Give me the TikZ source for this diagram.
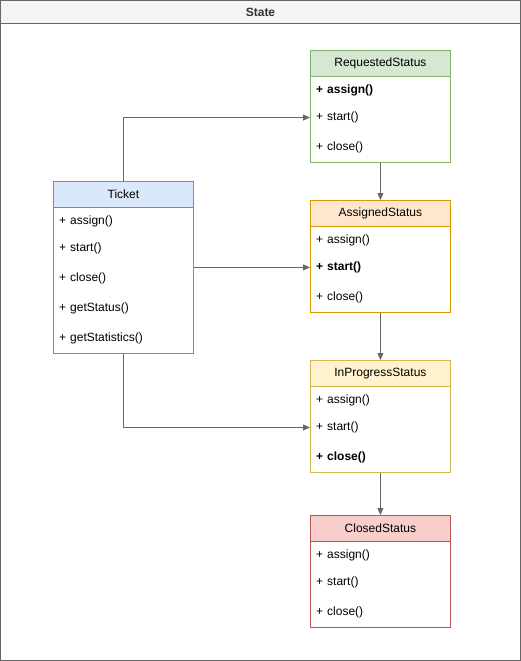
\documentclass[tikz,border=0pt]{standalone}
\usepackage{fontspec}
\setmainfont{Liberation Sans}
\usetikzlibrary{arrows.meta}

\definecolor{frameS}{HTML}{666666}
\definecolor{frameF}{HTML}{F5F5F5}
\definecolor{titleT}{HTML}{333333}
\definecolor{blueF}{HTML}{DAE8FC}
\definecolor{blueS}{HTML}{6C8EBF}
\definecolor{greenF}{HTML}{D5E8D4}
\definecolor{greenS}{HTML}{82B366}
\definecolor{orangeF}{HTML}{FFE6CC}
\definecolor{orangeS}{HTML}{D79B00}
\definecolor{yellowF}{HTML}{FFF2CC}
\definecolor{yellowS}{HTML}{D6B656}
\definecolor{redF}{HTML}{F8CECC}
\definecolor{redS}{HTML}{B85450}

\tikzset{
  basefont/.style={font=\fontsize{12}{14}\selectfont},
  classbox/.style={draw=#1, line width=0.8pt, minimum width=140pt, inner sep=0pt, anchor=north west},
  classhead/.style={draw=#1, line width=0.8pt, minimum width=140pt, minimum height=26pt, inner sep=0pt, anchor=north west, basefont},
  member/.style={anchor=west, text width=128pt, inner xsep=6pt, inner ysep=0pt, align=left, basefont},
  link/.style={draw=frameS, line width=0.8pt, -{Triangle[length=7pt,width=6pt]}},
}

\begin{document}
\begin{tikzpicture}[x=1pt,y=-1pt]
\useasboundingbox (0,0) rectangle (521,661);

% container with title bar
\fill[frameF] (0.5,0.5) rectangle (520.5,23.5);
\draw[frameS, line width=0.8pt] (0.5,0.5) rectangle (520.5,660.5);
\draw[frameS, line width=0.8pt] (0.5,23.5) -- (520.5,23.5);
\node[basefont, text=titleT, font=\fontsize{12}{14}\selectfont\bfseries] (title) at (260.5,12.5) {State};

% Ticket
\node[classhead=blueS, fill=blueF] (tkh) at (53,181) {Ticket};
\node[classbox=blueS, minimum height=172pt] (tk) at (53,181) {};
\node[member] (tka) at (53,221.5) {+ assign()};
\node[member] (tks) at (53,248.5) {+ start()};
\node[member] (tkc) at (53,278.5) {+ close()};
\node[member] (tkg) at (53,308.5) {+ getStatus()};
\node[member] (tkt) at (53,338.5) {+ getStatistics()};

% RequestedStatus
\node[classhead=greenS, fill=greenF] (rqh) at (310,50) {RequestedStatus};
\node[classbox=greenS, minimum height=112pt] (rq) at (310,50) {};
\node[member] (rqa) at (310,90.5) {\textbf{+ assign()}};
\node[member] (rqs) at (310,117.5) {+ start()};
\node[member] (rqc) at (310,147.5) {+ close()};

% AssignedStatus
\node[classhead=orangeS, fill=orangeF] (ash) at (310,200) {AssignedStatus};
\node[classbox=orangeS, minimum height=112pt] (as) at (310,200) {};
\node[member] (asa) at (310,240.5) {+ assign()};
\node[member] (ass) at (310,267.5) {\textbf{+ start()}};
\node[member] (asc) at (310,297.5) {+ close()};

% InProgressStatus
\node[classhead=yellowS, fill=yellowF] (iph) at (310,360) {InProgressStatus};
\node[classbox=yellowS, minimum height=112pt] (ip) at (310,360) {};
\node[member] (ipa) at (310,400.5) {+ assign()};
\node[member] (ips) at (310,427.5) {+ start()};
\node[member] (ipc) at (310,457.5) {\textbf{+ close()}};

% ClosedStatus
\node[classhead=redS, fill=redF] (clh) at (310,515) {ClosedStatus};
\node[classbox=redS, minimum height=112pt] (cl) at (310,515) {};
\node[member] (cla) at (310,555.5) {+ assign()};
\node[member] (cls) at (310,582.5) {+ start()};
\node[member] (clc) at (310,612.5) {+ close()};

% connectors from Ticket to the states
\draw[link] (tk.north) |- (rqs.west);
\draw[link] (tk.east) -- (tk.east -| ass.west);
\draw[link] (tk.south) |- (ips.west);

% state transitions
\draw[link] (rq.south) -- (ash.north);
\draw[link] (as.south) -- (iph.north);
\draw[link] (ip.south) -- (clh.north);
\end{tikzpicture}
\end{document}
